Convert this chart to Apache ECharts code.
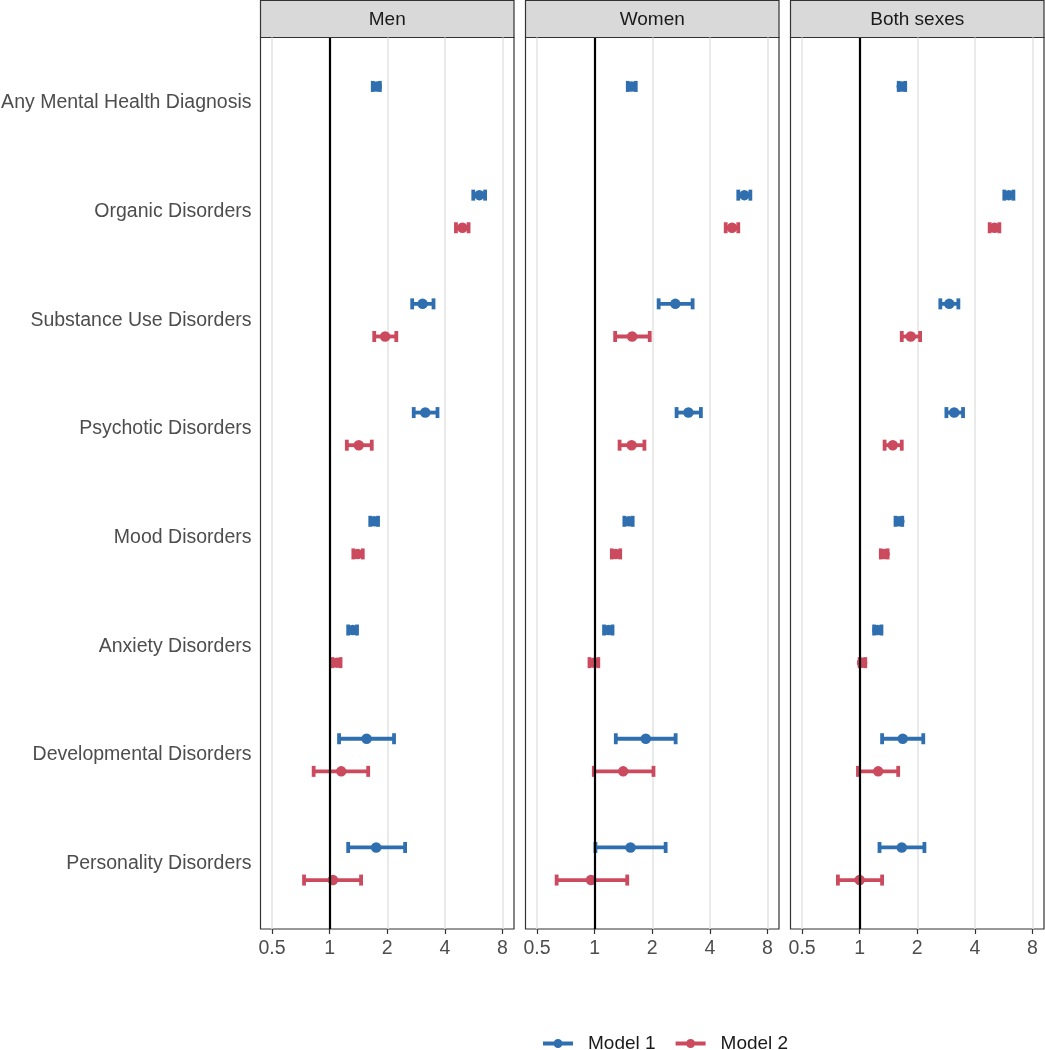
<!DOCTYPE html>
<html><head><meta charset="utf-8">
<script src="https://cdn.jsdelivr.net/npm/echarts@6/dist/echarts.min.js"></script>
<style>html,body{margin:0;padding:0;background:#fff}#c{width:1045px;height:1050px}</style>
</head><body><div id="c"></div>
<script>
const categories = ['Any Mental Health Diagnosis','Organic Disorders','Substance Use Disorders','Psychotic Disorders','Mood Disorders','Anxiety Disorders','Developmental Disorders','Personality Disorders'];
const panels = ['Men','Women','Both sexes'];
const models = ['Model 1','Model 2'];
const xTicks = [0.5, 1, 2, 4, 8];

// [estimate, lower CI, upper CI] per category; null = not estimated
const menModel1 = [[1.76,1.68,1.83],[6.06,5.63,6.49],[3.06,2.70,3.49],[3.16,2.75,3.66],[1.71,1.63,1.79],[1.32,1.25,1.39],[1.56,1.12,2.17],[1.75,1.25,2.48]];
const menModel2 = [null,[4.94,4.57,5.32],[1.95,1.71,2.23],[1.42,1.23,1.66],[1.40,1.33,1.49],[1.09,1.035,1.14],[1.15,0.825,1.59],[1.04,0.735,1.46]];
const womenModel1 = [[1.56,1.49,1.64],[6.06,5.63,6.51],[2.64,2.16,3.25],[3.09,2.68,3.59],[1.51,1.43,1.58],[1.18,1.12,1.24],[1.85,1.29,2.65],[1.54,1.01,2.35]];
const womenModel2 = [null,[5.22,4.84,5.63],[1.57,1.28,1.94],[1.56,1.35,1.82],[1.29,1.23,1.36],[0.99,0.94,1.045],[1.41,0.99,2.03],[0.957,0.633,1.48]];
const bothModel1 = [[1.66,1.60,1.73],[6.02,5.70,6.36],[2.94,2.64,3.28],[3.12,2.84,3.47],[1.61,1.54,1.67],[1.24,1.19,1.30],[1.68,1.31,2.15],[1.66,1.27,2.18]];
const bothModel2 = [null,[5.07,4.78,5.37],[1.85,1.66,2.07],[1.49,1.35,1.66],[1.35,1.29,1.40],[1.03,1.00,1.07],[1.25,0.98,1.59],[1.00,0.77,1.31]];

const panelData = [[menModel1, menModel2],[womenModel1, womenModel2],[bothModel1, bothModel2]];
const colors = ['#2f6fb0', '#cc4a5e'];
const font = "'Liberation Sans', Arial, Helvetica, sans-serif";
const panelLeft = [260.5, 525.5, 790.5];
const panelW = 253.5;
const panelTop = 37.5, panelH = 891.5;
const dodge = [-0.15, 0.15];
const yPositions = categories.map((c, i) => i + 1);

const grids = panelLeft.map(l => ({left: l, top: panelTop, width: panelW, height: panelH, show: true, borderColor: '#333333', borderWidth: 1.2, backgroundColor: '#ffffff', containLabel: false, outerBoundsMode: 'none'}));

const xAxes = panels.map((p, i) => ({
  type: 'log', logBase: 2, gridIndex: i, min: Math.pow(2, -1.2), max: Math.pow(2, 3.2),
  axisLine: {show: false},
  axisTick: {show: true, customValues: xTicks, length: 5, lineStyle: {color: '#333333', width: 1.2}},
  axisLabel: {customValues: xTicks, formatter: v => String(+v.toPrecision(3)), color: '#4d4d4d', fontSize: 19.5, fontFamily: font, margin: 10},
  splitLine: {show: true, lineStyle: {color: '#e3e3e3', width: 1.5}}
}));

const yAxes = panels.map((p, i) => ({
  type: 'value', gridIndex: i, inverse: true, min: 0.4, max: 8.6,
  axisLine: {show: false},
  axisTick: {show: false, customValues: yPositions},
  splitLine: {show: false},
  axisLabel: {show: i === 0, customValues: yPositions, formatter: v => categories[Math.round(v) - 1], color: '#4d4d4d', fontSize: 19.5, fontFamily: font, margin: 9}
}));

const series = [];
panels.forEach((p, i) => {
  panelData[i].forEach((arr, m) => {
    const rows = [];
    arr.forEach((d, k) => { if (d) rows.push([d[0], d[1], d[2], k + 1 + dodge[m]]); });
    const col = colors[m];
    series.push({
      type: 'custom', name: models[m], xAxisIndex: i, yAxisIndex: i,
      itemStyle: {color: col},
      encode: {x: [0, 1, 2], y: 3},
      data: rows,
      renderItem: (params, api) => {
        const y = api.value(3);
        const a = api.coord([api.value(1), y]);
        const b = api.coord([api.value(2), y]);
        const h = 5.5;
        const st = {stroke: col, lineWidth: 3.8};
        return {type: 'group', children: [
          {type: 'line', shape: {x1: a[0], y1: a[1], x2: b[0], y2: b[1]}, style: st},
          {type: 'line', shape: {x1: a[0], y1: a[1] - h, x2: a[0], y2: a[1] + h}, style: st},
          {type: 'line', shape: {x1: b[0], y1: b[1] - h, x2: b[0], y2: b[1] + h}, style: st}
        ]};
      }
    });
  });
  panelData[i].forEach((arr, m) => {
    const pts = [];
    arr.forEach((d, k) => { if (d) pts.push([d[0], k + 1 + dodge[m]]); });
    const s = {
      type: 'scatter', name: models[m], xAxisIndex: i, yAxisIndex: i,
      symbol: 'circle', symbolSize: 10.5,
      itemStyle: {color: colors[m], opacity: 1},
      data: pts, z: 3
    };
    if (m === 1) {
      s.markLine = {silent: true, symbol: 'none', label: {show: false}, z: 5,
        lineStyle: {color: '#000000', width: 2.2, type: 'solid'},
        emphasis: {disabled: true},
        data: [{xAxis: 1}]};
    }
    series.push(s);
  });
});

const graphic = [];
panels.forEach((p, i) => {
  graphic.push({type: 'rect', shape: {x: panelLeft[i], y: 0.5, width: panelW, height: 37}, style: {fill: '#d9d9d9', stroke: '#333333', lineWidth: 1.2}});
  graphic.push({type: 'text', x: panelLeft[i] + panelW / 2, y: 19.5, style: {text: p, align: 'center', verticalAlign: 'middle', fontSize: 19, fontFamily: font, fill: '#1a1a1a'}});
});

const chart = echarts.init(document.getElementById('c'));
chart.setOption({
  animation: false,
  backgroundColor: '#ffffff',
  grid: grids,
  xAxis: xAxes,
  yAxis: yAxes,
  series: series,
  graphic: graphic,
  legend: {
    data: models, left: 538, top: 1029, itemWidth: 30, itemHeight: 10, itemGap: 20,
    icon: 'path://M0,3L30,3L30,7L0,7Z M15,0.5A4.5,4.5 0 1 1 15,9.5A4.5,4.5 0 1 1 15,0.5Z',
    textStyle: {fontSize: 19, color: '#1a1a1a', fontFamily: font, padding: [0, 0, 0, 10]},
    selectedMode: false
  }
});
</script>
</body></html>
